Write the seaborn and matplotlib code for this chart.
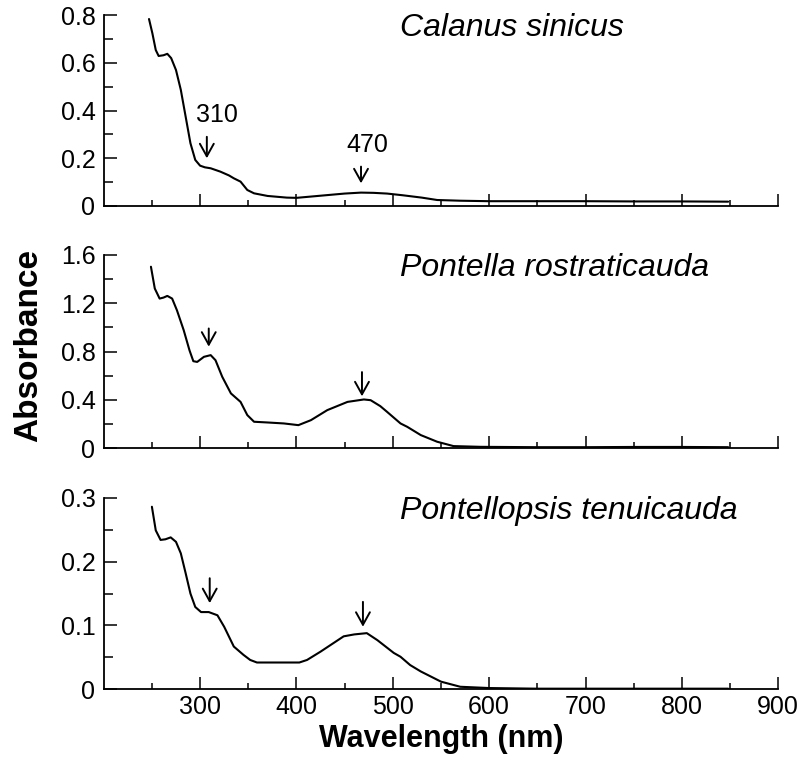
"""Absorbance spectra of three copepod species, stacked panels."""

import matplotlib
matplotlib.use("Agg")
import matplotlib.pyplot as plt
import pandas as pd
import seaborn as sns

sns.set_theme(style="ticks")
plt.rcParams["font.family"] = ["Liberation Sans", "DejaVu Sans"]
plt.rcParams["text.color"] = "black"
plt.rcParams["axes.labelcolor"] = "black"
plt.rcParams["xtick.color"] = "black"
plt.rcParams["ytick.color"] = "black"

# Calanus sinicus
calanus_wl = [247, 250.5, 254, 257, 262, 266, 270, 275, 280, 285, 290, 295, 300,
              305, 311, 321, 330, 335, 342, 349, 356, 370, 390, 400, 425, 450,
              467, 480, 494, 510, 530, 546, 570, 600, 650, 700, 750, 800, 848]
calanus_abs = [0.784, 0.724, 0.654, 0.629, 0.632, 0.638, 0.62, 0.57, 0.487, 0.375,
               0.263, 0.193, 0.169, 0.162, 0.158, 0.144, 0.128, 0.116, 0.102, 0.067,
               0.053, 0.042, 0.035, 0.034, 0.043, 0.052, 0.056, 0.055, 0.052, 0.045,
               0.035, 0.025, 0.022, 0.02, 0.02, 0.02, 0.019, 0.019, 0.018]

# Pontella rostraticauda
pontella_wl = [249, 253, 258, 262, 266, 271, 276, 283, 289, 293, 297, 304, 311,
               316, 323, 332, 342, 349, 356, 370, 387, 402, 415, 432, 453, 470,
               477, 487, 494, 508, 515, 529, 546, 563, 591, 650, 700, 750, 800, 848]
pontella_abs = [1.50, 1.32, 1.237, 1.245, 1.259, 1.237, 1.14, 0.976, 0.81, 0.72,
                0.714, 0.756, 0.77, 0.728, 0.591, 0.454, 0.384, 0.275, 0.22, 0.214,
                0.206, 0.192, 0.233, 0.316, 0.384, 0.404, 0.398, 0.349, 0.302, 0.206,
                0.178, 0.11, 0.055, 0.019, 0.013, 0.01, 0.01, 0.012, 0.012, 0.01]

# Pontellopsis tenuicauda
pontellopsis_wl = [250, 254, 259, 264, 269.5, 275, 280, 285, 290, 295, 301, 309,
                   318, 325, 335, 345, 352, 359, 387, 403, 411, 425, 449, 460, 473,
                   484, 501, 508, 518, 529, 550, 570, 600, 650, 700, 750, 800, 848]
pontellopsis_abs = [0.286, 0.249, 0.234, 0.235, 0.238, 0.231, 0.213, 0.182, 0.150,
                    0.129, 0.121, 0.121, 0.116, 0.098, 0.067, 0.054, 0.046, 0.042,
                    0.042, 0.042, 0.046, 0.059, 0.083, 0.086, 0.088, 0.077, 0.057,
                    0.051, 0.038, 0.028, 0.012, 0.004, 0.002, 0.001, 0.001, 0.001,
                    0.001, 0.001]

species = ["Calanus sinicus", "Pontella rostraticauda", "Pontellopsis tenuicauda"]

y_max = [0.8, 1.6, 0.3]
y_major = [[0, 0.2, 0.4, 0.6, 0.8], [0, 0.4, 0.8, 1.2, 1.6], [0, 0.1, 0.2, 0.3]]
y_minor = [[0.1, 0.3, 0.5, 0.7], [0.2, 0.6, 1.0, 1.4], [0.05, 0.15, 0.25]]
y_labels = [["0", "0.2", "0.4", "0.6", "0.8"],
            ["0", "0.4", "0.8", "1.2", "1.6"],
            ["0", "0.1", "0.2", "0.3"]]

x_major = [300, 400, 500, 600, 700, 800, 900]
x_minor = [250, 350, 450, 550, 650, 750, 850]

# arrows: (x, tail value, tip value) for the 310 and 470 nm bands
arrows = [
    [(307, 0.29, 0.20), (467, 0.165, 0.095)],
    [(309, 0.99, 0.84), (468, 0.63, 0.43)],
    [(310, 0.174, 0.135), (469, 0.137, 0.098)],
]
band_labels = ["310", "470"]
band_label_pos = [(318, 0.333), (473.5, 0.207)]

AX_RECTS = [
    [0.129, 0.729, 0.839, 0.251],
    [0.129, 0.410, 0.839, 0.255],
    [0.129, 0.093, 0.839, 0.252],
]


def style_axis(ax, i, show_xlabels):
    ax.set_xlim(200, 900)
    ax.set_ylim(0, y_max[i])
    ax.set_xticks(x_major)
    ax.set_xticks(x_minor, minor=True)
    ax.set_yticks(y_major[i])
    ax.set_yticks(y_minor[i], minor=True)
    ax.set_yticklabels(y_labels[i])
    for side in ["top", "right"]:
        ax.spines[side].set_visible(False)
    for side in ["left", "bottom"]:
        ax.spines[side].set_linewidth(1.3)
        ax.spines[side].set_color("black")
    ax.tick_params(axis="x", which="major", direction="in", length=8.5, width=1.1,
                   labelsize=18, pad=4, colors="black", labelbottom=show_xlabels)
    ax.tick_params(axis="x", which="minor", direction="in", length=4.5, width=1.1,
                   colors="black")
    ax.tick_params(axis="y", which="major", direction="in", length=9, width=1.1,
                   labelsize=18, pad=6, colors="black")
    ax.tick_params(axis="y", which="minor", direction="in", length=6.5, width=1.1,
                   colors="black")
    ax.set_xlabel("")
    ax.set_ylabel("")


def main():
    fig = plt.figure(figsize=(8.04, 7.6), dpi=100)
    series = [(calanus_wl, calanus_abs), (pontella_wl, pontella_abs),
              (pontellopsis_wl, pontellopsis_abs)]

    for i, (wl, ab) in enumerate(series):
        ax = fig.add_axes(AX_RECTS[i])
        df = pd.DataFrame({"wavelength": wl, "absorbance": ab})
        sns.lineplot(data=df, x="wavelength", y="absorbance", ax=ax,
                     color="black", linewidth=1.5)
        style_axis(ax, i, show_xlabels=(i == 2))

        ax.text(0.439, 0.89, species[i], transform=ax.transAxes, fontsize=23,
                style="italic", ha="left", va="baseline", color="black")

        for x, tail, tip in arrows[i]:
            ax.annotate("", xy=(x, tip), xytext=(x, tail),
                        arrowprops=dict(arrowstyle="->,head_length=0.45,head_width=0.25",
                                        mutation_scale=20, lw=1.4, color="black",
                                        shrinkA=0, shrinkB=0))
        if i == 0:
            for label, (lx, ly) in zip(band_labels, band_label_pos):
                ax.text(lx, ly, label, fontsize=18, ha="center", va="bottom",
                        color="black")

    fig.text(0.017, 0.546, "Absorbance", rotation=90, fontsize=24,
             fontweight="bold", ha="left", va="center", color="black")
    fig.text(0.549, 0.017, "Wavelength (nm)", fontsize=22, fontweight="bold",
             ha="center", va="baseline", color="black")

    fig.savefig("out.png", dpi=100)
    plt.close(fig)


if __name__ == "__main__":
    main()
